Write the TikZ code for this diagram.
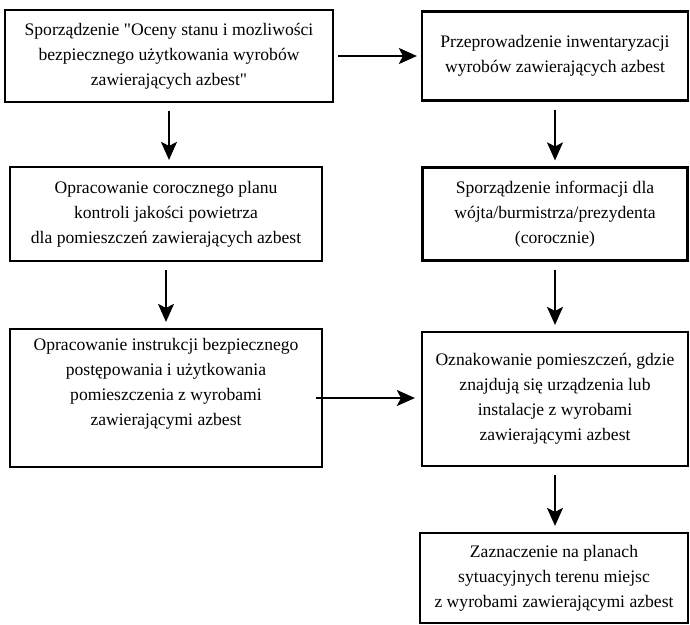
\documentclass[tikz,border=0pt]{standalone}
\usepackage{fontspec}
\setmainfont{Liberation Serif}
\usetikzlibrary{arrows.meta}

\begin{document}
\begin{tikzpicture}[x=1pt,y=-1pt,
    box/.style={draw,line width=2.2pt,inner sep=0pt,align=center,
      font=\fontsize{17.6}{25}\selectfont},
    arr/.style={line width=1.7pt,-{Stealth[length=18pt,width=16pt,inset=4pt]}}]
    \useasboundingbox (0,0) rectangle (690,624);
    % left column
    \node[box,minimum width=328pt,minimum height=92pt] (ocena) at (169,56)
      {Sporządzenie \textquotedbl Oceny stanu i mozliwości\\bezpiecznego użytkowania wyrobów\\zawierających azbest\textquotedbl};
    \node[box,minimum width=312pt,minimum height=94pt] (plan) at (166,214)
      {Opracowanie corocznego planu\\kontroli jakości powietrza\\dla pomieszczeń zawierających azbest};
    \node[box,minimum width=312pt,minimum height=138pt] (instr) at (166,398)
      {Opracowanie instrukcji bezpiecznego\\postępowania i użytkowania\\pomieszczenia z wyrobami\\zawierającymi azbest\\[8pt]\mbox{}};
    % right column
    \node[box,minimum width=266pt,minimum height=89pt] (inwent) at (555,56)
      {Przeprowadzenie inwentaryzacji\\wyrobów zawierających azbest};
    \node[box,minimum width=265pt,minimum height=93pt] (info) at (555,214)
      {Sporządzenie informacji dla\\wójta/burmistrza/prezydenta\\(corocznie)};
    \node[box,minimum width=266pt,minimum height=134pt] (oznak) at (555,399)
      {Oznakowanie pomieszczeń, gdzie\\znajdują się urządzenia lub\\instalacje z wyrobami\\zawierającymi azbest};
    \node[box,minimum width=268pt,minimum height=90pt] (plany) at (554,578)
      {Zaznaczenie na planach\\sytuacyjnych terenu miejsc\\z wyrobami zawierającymi azbest};
    % arrows
    \draw[arr,shorten <=4pt,shorten >=4pt] (ocena.east) -- (inwent.west |- ocena.east);
    \draw[arr,shorten <=8pt,shorten >=6pt] (ocena.south) -- (ocena.south |- plan.north);
    \draw[arr,shorten <=8pt,shorten >=6pt] (plan.south) -- (plan.south |- instr.north);
    \draw[arr,shorten <=8pt,shorten >=6pt] (inwent.south) -- (inwent.south |- info.north);
    \draw[arr,shorten <=8pt,shorten >=6pt] (info.south) -- (info.south |- oznak.north);
    \draw[arr,shorten <=8pt,shorten >=6pt] (oznak.south) -- (oznak.south |- plany.north);
    \draw[arr,shorten >=6pt] ([xshift=-7pt]instr.east) -- (oznak.west |- instr.east);
  \end{tikzpicture}
\end{document}
